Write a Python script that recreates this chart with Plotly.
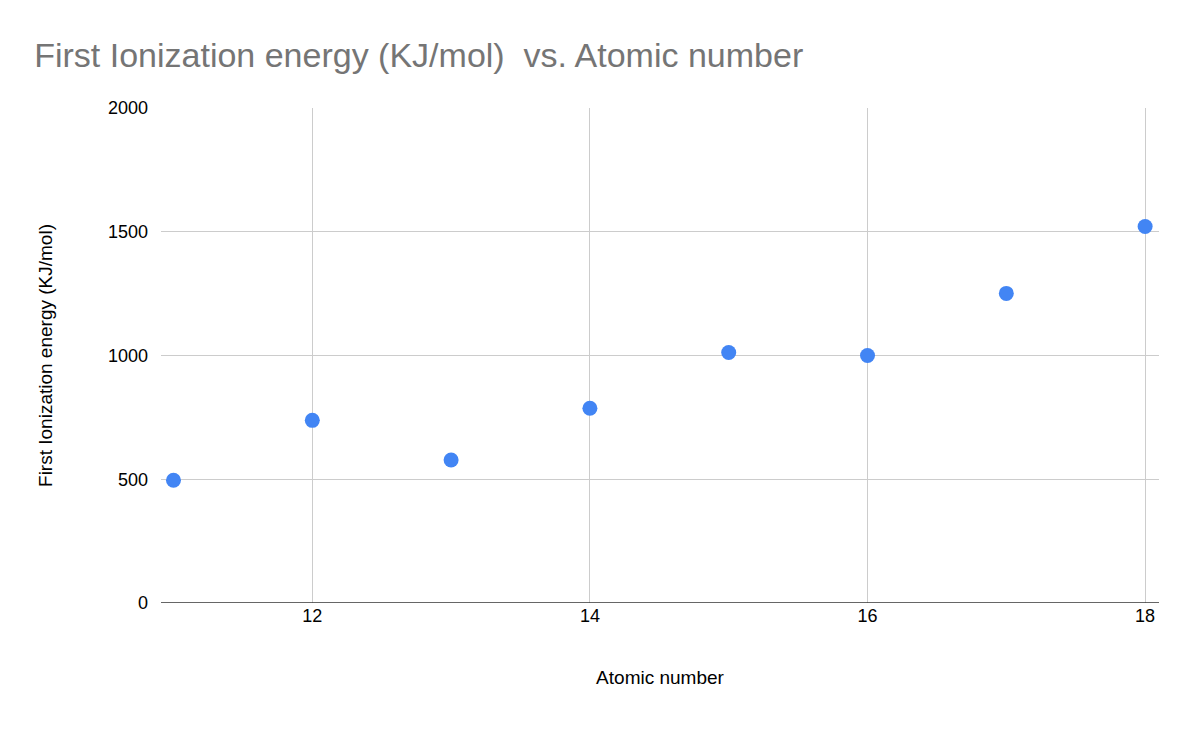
import plotly.graph_objects as go

atomic_number = [11, 12, 13, 14, 15, 16, 17, 18]
ionization_energy = [496, 738, 578, 787, 1012, 1000, 1251, 1521]
y_ticks = [0, 500, 1000, 1500, 2000]
x_ticks = [12, 14, 16, 18]

fig = go.Figure(go.Scatter(
    x=atomic_number, y=ionization_energy, mode='markers',
    marker=dict(color='#4285f4', size=15), cliponaxis=False,
))

fig.update_layout(
    width=1190, height=730,
    margin=dict(l=153, r=39, t=100, b=135),
    paper_bgcolor='white', plot_bgcolor='white',
    font=dict(family='Arial, Liberation Sans, sans-serif', size=18, color='#000'),
    title=dict(text='First Ionization energy (KJ/mol)  vs. Atomic number',
               x=0.022, xanchor='left', y=0.935, yanchor='middle',
               font=dict(size=34, color='#757575')),
    showlegend=False,
)
fig.update_xaxes(
    range=[10.91, 18.1], tickvals=x_ticks, showgrid=True, gridcolor='#cccccc',
    zeroline=False, showline=False, ticks='',
    title=dict(text='Atomic number', standoff=45, font=dict(size=19)),
)
fig.update_yaxes(
    range=[0, 2000], tickvals=y_ticks, showgrid=True, gridcolor='#cccccc',
    zeroline=False, showline=False, ticks='', ticklabelstandoff=12,
    title=dict(text='First Ionization energy (KJ/mol)', standoff=50, font=dict(size=19)),
)
fig.add_shape(type='line', xref='paper', yref='y', x0=0, x1=1, y0=0, y1=0,
              line=dict(color='#333', width=1.5))

fig.write_html("out.html")
